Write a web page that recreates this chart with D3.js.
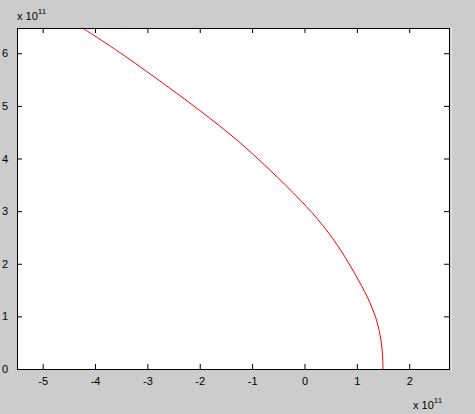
<!DOCTYPE html>
<html><head><meta charset="utf-8">
<script src="https://cdn.jsdelivr.net/npm/d3@7"></script>
<style>body{margin:0;background:#cccccc;}svg{display:block;}text{font-family:"Liberation Sans",Arial,sans-serif;}</style>
</head><body>
<svg id="c" width="475" height="414"></svg>
<script>
// trajectory (units of 1e11)
const xs = [-4.24, -3.61, -2.84, -2.01, -1.29, -0.66, -0.08, 0.34, 0.69, 1.03, 1.25, 1.39, 1.46, 1.49, 1.50];
const ys = [6.48, 6.07, 5.53, 4.92, 4.35, 3.78, 3.21, 2.74, 2.26, 1.69, 1.26, 0.88, 0.55, 0.27, 0.00];
const xTicks = [-5, -4, -3, -2, -1, 0, 1, 2];
const yTicks = [0, 1, 2, 3, 4, 5, 6];
const expLabel = "11";

const svg = d3.select("#c");
const L = 17, R = 449, T = 28, B = 369;
const x = d3.scaleLinear().domain([-5.49, 2.76]).range([L, R]);
const y = d3.scaleLinear().domain([0, 6.48]).range([B, T]);

svg.append("rect").attr("x", L).attr("y", T).attr("width", R - L).attr("height", B - T).attr("fill", "#fff");
svg.append("line").attr("x1", R + 2.5).attr("x2", R + 2.5).attr("y1", T).attr("y2", B + 2).attr("stroke", "#e4e4e4");

const fmt = d => String(d);
svg.append("g").attr("transform", `translate(0,${B})`)
  .call(d3.axisBottom(x).tickValues(xTicks).tickSizeInner(-5).tickSizeOuter(0).tickPadding(8).tickFormat(fmt));
svg.append("g").attr("transform", `translate(0,${T})`)
  .call(d3.axisTop(x).tickValues(xTicks).tickSizeInner(-5).tickSizeOuter(0).tickFormat(""));
svg.append("g").attr("transform", `translate(${L},0)`)
  .call(d3.axisLeft(y).tickValues(yTicks).tickSizeInner(-5).tickSizeOuter(0).tickPadding(9).tickFormat(fmt));
svg.append("g").attr("transform", `translate(${R},0)`)
  .call(d3.axisRight(y).tickValues(yTicks).tickSizeInner(-5).tickSizeOuter(0).tickFormat(""));
svg.selectAll(".domain").remove();
svg.selectAll(".tick line").attr("stroke", "#000");
svg.selectAll(".tick text").attr("font-size", 11).attr("fill", "#000");

// curve
const pts = xs.map((v, i) => [v, ys[i]]);
svg.append("path").datum(pts)
  .attr("d", d3.line().x(d => x(d[0])).y(d => y(d[1])).curve(d3.curveCatmullRom))
  .attr("fill", "none").attr("stroke", "#ff0000").attr("stroke-width", 1);

// box
svg.append("rect").attr("x", L).attr("y", T).attr("width", R - L).attr("height", B - T)
  .attr("fill", "none").attr("stroke", "#000").attr("stroke-width", 1).attr("shape-rendering", "crispEdges");

// exponent labels
const t1 = svg.append("text").attr("x", 17).attr("y", 20).attr("font-size", 11);
t1.append("tspan").text("x 10");
t1.append("tspan").attr("dy", -6).attr("font-size", 8).text(expLabel);
const t2 = svg.append("text").attr("x", 413).attr("y", 409).attr("font-size", 11);
t2.append("tspan").text("x 10");
t2.append("tspan").attr("dy", -6).attr("font-size", 8).text(expLabel);
</script>
</body></html>
